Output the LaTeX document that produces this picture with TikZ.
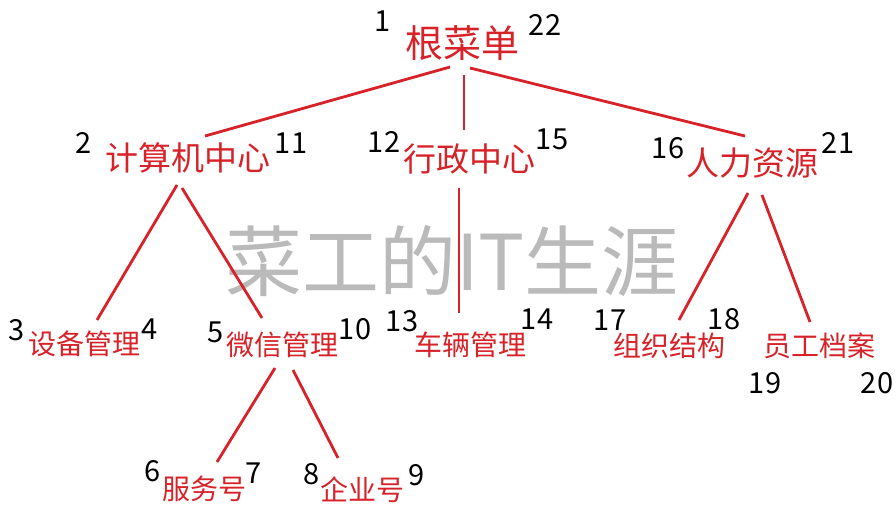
\documentclass[tikz,border=0pt]{standalone}
\usepackage{fontspec}
\setmainfont{Noto Sans CJK SC}
\usetikzlibrary{calc}
\definecolor{menured}{RGB}{214,34,40}
\begin{document}
\begin{tikzpicture}[x=1pt,y=-1pt,
    lvl0/.style={text=menured,font=\fontsize{38}{38}\selectfont,inner sep=0pt},
    lvl1/.style={text=menured,font=\fontsize{33}{33}\selectfont,inner sep=0pt},
    lvl2/.style={text=menured,font=\fontsize{28}{28}\selectfont,inner sep=0pt},
    num/.style={font=\fontsize{29}{29}\selectfont,inner sep=0pt}]
      \useasboundingbox (0,0) rectangle (896,509);
      \node[text=black!27,font=\fontsize{77}{77}\selectfont,inner sep=0pt] (mark) at (452,261) {菜工的IT生涯};
      \draw
        (462,43) node[lvl0] (root){根菜单}
        (188,158) node[lvl1] (jsj){计算机中心}
        (469,159) node[lvl1] (xz){行政中心}
        (752,163) node[lvl1] (rl){人力资源}
        (84,344) node[lvl2] (sb){设备管理}
        (282,345) node[lvl2] (wx){微信管理}
        (470,345) node[lvl2] (cl){车辆管理}
        (669,346) node[lvl2] (zz){组织结构}
        (819,346) node[lvl2] (yg){员工档案}
        (204,489) node[lvl2] (fw){服务号}
        (362,490) node[lvl2] (qy){企业号};
      \draw
        (383,21) node[num] (n1){1}
        (84,143) node[num] (n2){2}
        (17,330) node[num] (n3){3}
        (150,329) node[num] (n4){4}
        (216,332) node[num] (n5){5}
        (153,471) node[num] (n6){6}
        (254,473) node[num] (n7){7}
        (312,474) node[num] (n8){8}
        (417,475) node[num] (n9){9}
        (355,329) node[num] (n10){10}
        (291,143) node[num] (n11){11}
        (384,142) node[num] (n12){12}
        (402,321) node[num] (n13){13}
        (537,319) node[num] (n14){14}
        (552,139) node[num] (n15){15}
        (668,148) node[num] (n16){16}
        (610,320) node[num] (n17){17}
        (724,319) node[num] (n18){18}
        (765,383) node[num] (n19){19}
        (877,383) node[num] (n20){20}
        (838,143) node[num] (n21){21}
        (545,25) node[num] (n22){22};
      \begin{scope}[-,draw=menured,line width=2.8pt]
        \draw ($(root)+(-12,24)$) to ($(jsj)+(17,-22)$);
        \draw ($(root)+(2,32)$) to ($(xz)+(-5,-29)$);
        \draw ($(root)+(8,25)$) to ($(rl)+(-7,-27)$);
        \draw ($(jsj)+(-11,27)$) to ($(sb)+(13,-24)$);
        \draw ($(jsj)+(-6,30)$) to ($(wx)+(-20,-27)$);
        \draw ($(xz)+(-10,29)$) to ($(cl)+(-11,-32)$);
        \draw ($(rl)+(-4,30)$) to ($(zz)+(10,-26)$);
        \draw ($(rl)+(10,32)$) to ($(yg)+(-9,-24)$);
        \draw ($(wx)+(-7,23)$) to ($(fw)+(13,-27)$);
        \draw ($(wx)+(11,25)$) to ($(qy)+(-24,-32)$);
      \end{scope}
    \end{tikzpicture}
\end{document}
